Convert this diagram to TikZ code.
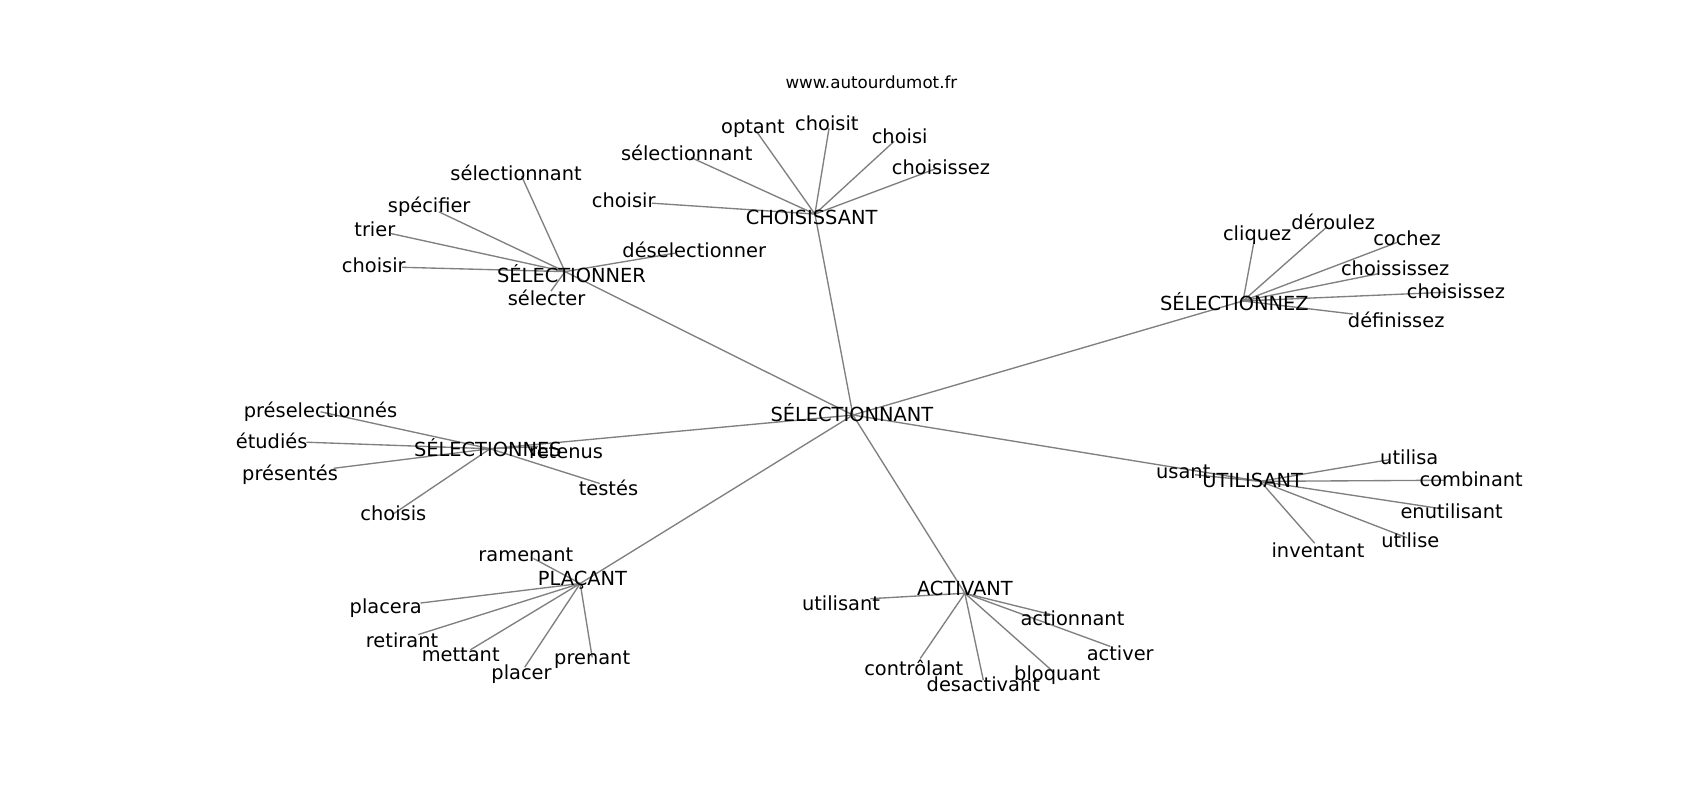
\documentclass[tikz,border=0pt]{standalone}
\usepackage{fontspec}
\setmainfont{DejaVu Sans}
\begin{document}
\begin{tikzpicture}[x=1.0865pt,y=-1.0865pt,
  lbl/.style={inner sep=0pt,font=\fontsize{19.4}{23}\selectfont},
  ttl/.style={inner sep=0pt,font=\fontsize{16.7}{20}\selectfont},
  edge/.style={draw=black!50,line width=1.35pt}]
\useasboundingbox[fill=white] (0,0) rectangle (1564.6,736.3);
% title
\node[ttl] (title) at (802,76) {www.autourdumot.fr};
% hub points
\coordinate (pC) at (785,382);
\coordinate (pCH) at (750,197);
\coordinate (pSR) at (520,250);
\coordinate (pSZ) at (1144,277);
\coordinate (pSS) at (451,413);
\coordinate (pU) at (1160,443);
\coordinate (pP) at (534,537);
\coordinate (pA) at (888,546);
% leaf points
\coordinate (p1) at (697,122);
\coordinate (p2) at (763,118);
\coordinate (p3) at (823,130);
\coordinate (p4) at (862,155);
\coordinate (p5) at (636,145);
\coordinate (p6) at (600,187);
\coordinate (p7) at (480,162);
\coordinate (p8) at (404,195);
\coordinate (p9) at (360,215);
\coordinate (p10) at (370,246);
\coordinate (p11) at (621,233);
\coordinate (p12) at (507,268);
\coordinate (p13) at (1154,223);
\coordinate (p14) at (1221,209);
\coordinate (p15) at (1286,223);
\coordinate (p16) at (1268,252);
\coordinate (p17) at (1330,269);
\coordinate (p18) at (1245,289);
\coordinate (p19) at (295,379);
\coordinate (p20) at (282,407);
\coordinate (p21) at (307,431);
\coordinate (p22) at (362,473);
\coordinate (p23) at (495,411);
\coordinate (p24) at (552,445);
\coordinate (p25) at (1100,437);
\coordinate (p26) at (1279,423);
\coordinate (p27) at (1330,442);
\coordinate (p28) at (1325,468);
\coordinate (p29) at (1295,495);
\coordinate (p30) at (1210,500);
\coordinate (p31) at (491,514);
\coordinate (p32) at (387,555);
\coordinate (p33) at (385,584);
\coordinate (p34) at (433,598);
\coordinate (p35) at (483,614);
\coordinate (p36) at (545,605);
\coordinate (p37) at (801,551);
\coordinate (p38) at (969,566);
\coordinate (p39) at (1022,595);
\coordinate (p40) at (847,606);
\coordinate (p41) at (905,626);
\coordinate (p42) at (968,617);
% edges
\draw[edge] (pC) -- (pCH);
\draw[edge] (pC) -- (pSR);
\draw[edge] (pC) -- (pSZ);
\draw[edge] (pC) -- (pSS);
\draw[edge] (pC) -- (pU);
\draw[edge] (pC) -- (pP);
\draw[edge] (pC) -- (pA);
\foreach \i in {1,...,6} {\draw[edge] (pCH) -- (p\i);}
\foreach \i in {7,...,12} {\draw[edge] (pSR) -- (p\i);}
\foreach \i in {13,...,18} {\draw[edge] (pSZ) -- (p\i);}
\foreach \i in {19,...,24} {\draw[edge] (pSS) -- (p\i);}
\foreach \i in {25,...,30} {\draw[edge] (pU) -- (p\i);}
\foreach \i in {31,...,36} {\draw[edge] (pP) -- (p\i);}
\foreach \i in {37,...,42} {\draw[edge] (pA) -- (p\i);}
% hub labels
\node[lbl] (nC) at (784,380) {SÉLECTIONNANT};
\node[lbl] (nCH) at (747,200) {CHOISISSANT};
\node[lbl] (nSR) at (526,252) {SÉLECTIONNER};
\node[lbl] (nSZ) at (1136,278) {SÉLECTIONNEZ};
\node[lbl] (nSS) at (449,412) {SÉLECTIONNES};
\node[lbl] (nU) at (1153,442) {UTILISANT};
\node[lbl] (nP) at (536,534) {PLAÇANT};
\node[lbl] (nA) at (888,542) {ACTIVANT};
% leaf labels
\node[lbl] (n1) at (693,118) {optant};
\node[lbl] (n2) at (761,113) {choisit};
\node[lbl] (n3) at (828,125) {choisi};
\node[lbl] (n4) at (866,154) {choisissez};
\node[lbl] (n5) at (632,141) {sélectionnant};
\node[lbl] (n6) at (574,184) {choisir};
\node[lbl] (n7) at (475,159) {sélectionnant};
\node[lbl] (n8) at (395,190) {spécifier};
\node[lbl] (n9) at (345,211) {trier};
\node[lbl] (n10) at (344,244) {choisir};
\node[lbl] (n11) at (639,230) {déselectionner};
\node[lbl] (n12) at (503,274) {sélecter};
\node[lbl] (n13) at (1157,216) {cliquez};
\node[lbl] (n14) at (1227,204) {déroulez};
\node[lbl] (n15) at (1295,219) {cochez};
\node[lbl] (n16) at (1284,247) {choississez};
\node[lbl] (n17) at (1340,268) {choisissez};
\node[lbl] (n18) at (1285,294) {définissez};
\node[lbl] (n19) at (295,379) {préselectionnés};
\node[lbl] (n20) at (250,406) {étudiés};
\node[lbl] (n21) at (267,437) {présentés};
\node[lbl] (n22) at (362,472) {choisis};
\node[lbl] (n23) at (521,416) {retenus};
\node[lbl] (n24) at (560,449) {testés};
\node[lbl] (n25) at (1089,434) {usant};
\node[lbl] (n26) at (1297,421) {utilisa};
\node[lbl] (n27) at (1354,441) {combinant};
\node[lbl] (n28) at (1336,471) {enutilisant};
\node[lbl] (n29) at (1298,497) {utilise};
\node[lbl] (n30) at (1213,506) {inventant};
\node[lbl] (n31) at (484,511) {ramenant};
\node[lbl] (n32) at (355,560) {placera};
\node[lbl] (n33) at (370,589) {retirant};
\node[lbl] (n34) at (424,603) {mettant};
\node[lbl] (n35) at (480,620) {placer};
\node[lbl] (n36) at (545,607) {prenant};
\node[lbl] (n37) at (774,555) {utilisant};
\node[lbl] (n38) at (987,569) {actionnant};
\node[lbl] (n39) at (1031,601) {activer};
\node[lbl] (n40) at (841,615) {contrôlant};
\node[lbl] (n41) at (905,630) {desactivant};
\node[lbl] (n42) at (973,621) {bloquant};
\end{tikzpicture}
\end{document}
